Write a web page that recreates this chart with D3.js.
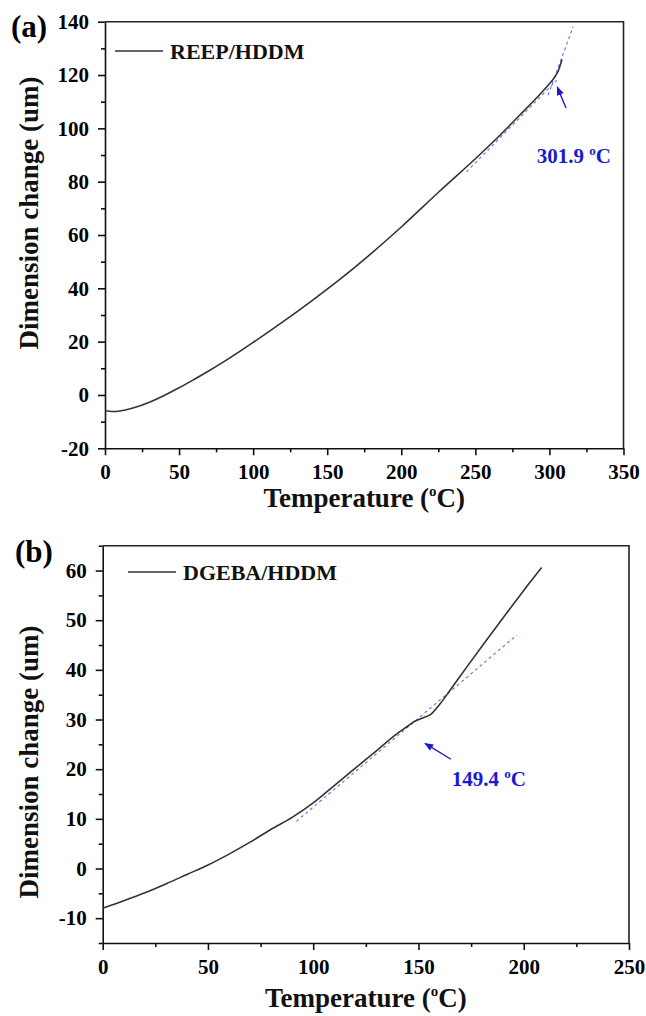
<!DOCTYPE html>
<html><head><meta charset="utf-8">
<script src="https://cdn.jsdelivr.net/npm/d3@7"></script>
<style>
html,body{margin:0;padding:0;background:#fff;}
svg{display:block;}
text{font-family:"Liberation Serif","Times New Roman",serif;font-weight:bold;}
</style></head>
<body>
<svg id="c" width="646" height="1016"></svg>
<script>
// ---------- data ----------
const topTemp = [0,5,10,20,30,40,50,60,70,80,90,100,120,140,160,180,200,226,250,264,280,294,300,303,306,308.5];
const topDim  = [-5.9,-6.2,-6.0,-4.7,-2.7,-0.2,2.7,5.8,9.0,12.4,16.0,19.7,27.4,35.5,44.0,53.2,63.0,76.5,88.6,96.0,105.0,113.0,116.7,118.8,121.6,125.8];
const topTanLowT = [244,305];   const topTanLowV = [83.7,118.1];
const topTanHighT = [299,316];  const topTanHighV = [112.4,138.1];
const topArrowT = [311.2,305.3]; const topArrowV = [107.6,115.5];
const topLabelPos = [291.4, 87.0];
const topXTicks = [0,50,100,150,200,250,300,350];
const topYTicks = [-20,0,20,40,60,80,100,120,140];

const botTemp = [0,10,20,30,40,50,60,70,80,90,100,110,120,130,140,145,148,152,156,160,165,173,182,192,200,208.5];
const botDim  = [-8.0,-6.5,-4.9,-3.1,-1.2,0.7,2.9,5.3,7.9,10.3,13.2,16.7,20.2,23.7,27.2,28.7,29.6,30.3,31.1,33.0,35.9,40.6,45.8,51.5,56.0,60.6];
const botTanT = [92,196.7]; const botTanV = [9.5,47.0];
const botArrowT = [165.4,153.1]; const botArrowV = [22.0,25.2];
const botLabelPos = [165.8, 16.6];
const botXTicks = [0,50,100,150,200,250];
const botYTicks = [-10,0,10,20,30,40,50,60];

const panels = [
  {tag:"(a)", legend:"REEP/HDDM", T:topTemp, V:topDim, xDom:[0,350], yDom:[-20,140],
   xR:[105,623.5], yR:[448.3,21.7], xTicks:topXTicks, yTicks:topYTicks, xMinorStep:25, yMinorStep:10,
   tans:[[topTanLowT,topTanLowV],[topTanHighT,topTanHighV]], arrow:[topArrowT,topArrowV],
   label:"301.9", labelPos:topLabelPos, tagXY:[11,37], legXY:[115,51], ytitleY:213, xtitleY:507},
  {tag:"(b)", legend:"DGEBA/HDDM", T:botTemp, V:botDim, xDom:[0,250], yDom:[-15,65],
   xR:[102.7,629], yR:[943,545.7], xTicks:botXTicks, yTicks:botYTicks, xMinorStep:25, yMinorStep:5,
   tans:[[botTanT,botTanV]], arrow:[botArrowT,botArrowV],
   label:"149.4", labelPos:botLabelPos, tagXY:[15,562], legXY:[128,572], ytitleY:762, xtitleY:1007}
];

const svg = d3.select("#c");
const defs = svg.append("defs");
defs.append("marker").attr("id","ah").attr("viewBox","0 0 10 10").attr("refX",9).attr("refY",5)
  .attr("markerWidth",9).attr("markerHeight",9).attr("markerUnits","userSpaceOnUse").attr("orient","auto")
  .append("path").attr("d","M0,1 L10,5 L0,9 Z").attr("fill","#1a1ad0");

const blue = "#1a1ad0";
const fmt = d => String(d);

panels.forEach(p => {
  const x = d3.scaleLinear().domain(p.xDom).range(p.xR);
  const y = d3.scaleLinear().domain(p.yDom).range(p.yR);
  const g = svg.append("g");

  const xMinor = d3.range(p.xDom[0], p.xDom[1]+0.001, p.xMinorStep).filter(v => !p.xTicks.includes(v));
  const yMinor = d3.range(p.yDom[0], p.yDom[1]+0.001, p.yMinorStep).filter(v => !p.yTicks.includes(v));

  g.append("g").attr("transform",`translate(0,${p.yR[0]})`)
    .call(d3.axisBottom(x).tickValues(p.xTicks).tickSize(7).tickSizeOuter(0).tickPadding(9).tickFormat(fmt));
  g.append("g").attr("transform",`translate(0,${p.yR[0]})`)
    .call(d3.axisBottom(x).tickValues(xMinor).tickSize(4).tickSizeOuter(0).tickFormat(""))
    .select(".domain").remove();
  g.append("g").attr("transform",`translate(${p.xR[0]},0)`)
    .call(d3.axisLeft(y).tickValues(p.yTicks).tickSize(7).tickSizeOuter(0).tickPadding(9).tickFormat(fmt));
  g.append("g").attr("transform",`translate(${p.xR[0]},0)`)
    .call(d3.axisLeft(y).tickValues(yMinor).tickSize(4).tickSizeOuter(0).tickFormat(""))
    .select(".domain").remove();
  g.selectAll(".tick text").attr("font-size",21).attr("fill","#000")
    .attr("font-family","'Liberation Serif','Times New Roman',serif").attr("font-weight","bold");
  g.selectAll(".domain,.tick line").attr("stroke","#111").attr("stroke-width",1.6);

  g.append("path").attr("d",`M${p.xR[0]},${p.yR[1]}H${p.xR[1]}V${p.yR[0]}`)
    .attr("fill","none").attr("stroke","#222").attr("stroke-width",1.6);

  p.tans.forEach(t => {
    g.append("path").datum(d3.zip(t[0],t[1]))
      .attr("d", d3.line().x(d=>x(d[0])).y(d=>y(d[1])))
      .attr("fill","none").attr("stroke","#6c6cf2").attr("stroke-width",1.1).attr("stroke-dasharray","3,3");
  });

  g.append("path").datum(d3.zip(p.T,p.V))
    .attr("d", d3.line().x(d=>x(d[0])).y(d=>y(d[1])).curve(d3.curveMonotoneX))
    .attr("fill","none").attr("stroke","#333").attr("stroke-width",1.6);

  g.append("line")
    .attr("x1",x(p.arrow[0][0])).attr("y1",y(p.arrow[1][0]))
    .attr("x2",x(p.arrow[0][1])).attr("y2",y(p.arrow[1][1]))
    .attr("stroke",blue).attr("stroke-width",1.4).attr("marker-end","url(#ah)");

  const lt = g.append("text").attr("x",x(p.labelPos[0])).attr("y",y(p.labelPos[1]))
    .attr("font-size",21).attr("fill",blue);
  lt.append("tspan").text(p.label + " ");
  lt.append("tspan").text("o").attr("font-size",13).attr("dy",-8);
  lt.append("tspan").text("C").attr("dy",8);

  g.append("line").attr("x1",p.legXY[0]).attr("x2",p.legXY[0]+48).attr("y1",p.legXY[1]).attr("y2",p.legXY[1])
    .attr("stroke","#333").attr("stroke-width",1.6);
  g.append("text").attr("x",p.legXY[0]+55).attr("y",p.legXY[1]+8).attr("font-size",22).attr("fill","#111").text(p.legend);

  g.append("text").attr("x",p.tagXY[0]).attr("y",p.tagXY[1]).attr("font-size",31).attr("fill","#000").text(p.tag);

  const xc = (p.xR[0]+p.xR[1])/2;
  const xt = g.append("text").attr("x",xc).attr("y",p.xtitleY).attr("text-anchor","middle").attr("font-size",27).attr("fill","#111");
  xt.append("tspan").text("Temperature (");
  xt.append("tspan").text("o").attr("font-size",15).attr("dy",-11);
  xt.append("tspan").text("C)").attr("dy",11);

  g.append("text").attr("transform",`translate(38,${p.ytitleY}) rotate(-90)`).attr("text-anchor","middle")
    .attr("font-size",27).attr("fill","#111").text("Dimension change (um)");
});
</script>
</body></html>
